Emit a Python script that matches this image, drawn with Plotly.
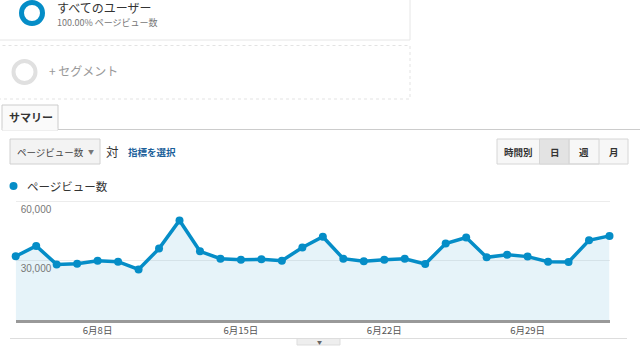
import plotly.graph_objects as go
import pandas as pd

# ---- data ----
dates = pd.date_range("2014-06-04", "2014-07-03", freq="D")
pageviews = [32300, 37550, 28200, 28550, 30100, 29600, 25650, 36200, 50500, 34850,
             31100, 30600, 30750, 30100, 36750, 42200, 31100, 29750, 30600, 31100,
             28400, 38800, 41850, 31800, 33150, 32150, 29600, 29400, 40450, 42650]
x_tick_dates = ["2014-06-08", "2014-06-15", "2014-06-22", "2014-06-29"]
x_tick_labels = ["6月8日", "6月15日", "6月22日", "6月29日"]
y_tick_vals = [30000, 60000]
y_tick_labels = ["30,000", "60,000"]
series_name = "ページビュー数"

W, H = 640, 360
FONT = "Noto Sans CJK JP, Noto Sans, sans-serif"
BLUE = "#058dc7"
Y_MAX = 61500


def px(x):
    return x / W


def py(y):
    return 1 - y / H


fig = go.Figure()
fig.add_trace(go.Scatter(
    x=dates, y=pageviews, mode="lines+markers", name=series_name,
    line=dict(color=BLUE, width=3.5),
    marker=dict(color=BLUE, size=8),
    fill="tozeroy", fillcolor="rgba(5,141,199,0.10)",
    cliponaxis=False, hoverinfo="skip", showlegend=False,
))

shapes = []
annotations = []


def text(x, y, s, size, color="#333", anchor="left", bold=False):
    annotations.append(dict(
        x=px(x), y=py(y), xref="paper", yref="paper", text=(f"<b>{s}</b>" if bold else s),
        showarrow=False, xanchor=anchor, yanchor="middle", borderpad=0,
        font=dict(family=FONT, size=size, color=color)))


def rect(x0, y0, x1, y1, fill="rgba(0,0,0,0)", line="#ddd", width=1, dash="solid"):
    shapes.append(dict(type="rect", xref="paper", yref="paper",
                       x0=px(x0), x1=px(x1), y0=py(y1), y1=py(y0),
                       fillcolor=fill, line=dict(color=line, width=width, dash=dash),
                       layer="below"))


def hline(x0, x1, y, color="#ccc", width=1):
    shapes.append(dict(type="line", xref="paper", yref="paper",
                       x0=px(x0), x1=px(x1), y0=py(y), y1=py(y),
                       line=dict(color=color, width=width)))


def circle(cx, cy, r, color, width, fill="rgba(0,0,0,0)"):
    shapes.append(dict(type="circle", xref="paper", yref="paper",
                       x0=px(cx - r), x1=px(cx + r), y0=py(cy + r), y1=py(cy - r),
                       fillcolor=fill, line=dict(color=color, width=width)))


# segment box 1
rect(-2, -5, 410, 40, line="#e6e6e6")
circle(32, 13, 10.5, BLUE, 5)
text(56, 7, "すべてのユーザー", 12, "#333")
text(56, 22, "100.00% ページビュー数", 9, "#777")

# segment box 2 (dotted)
rect(-2, 45.5, 410, 99, line="#e3e3e3", dash="dot")
circle(24.5, 72, 11, "#e0e0e0", 4)
text(48, 71, "+ セグメント", 12, "#999")

# summary tab
hline(58, 640, 129.5, "#cccccc")
rect(2, 105, 58, 130, fill="#fafafa", line="#cccccc")
hline(2.5, 57.5, 129.5, "#fafafa", 2)
text(8, 117, "サマリー", 11, "#333", bold=True)

# metric dropdown
rect(10, 139, 100, 164, fill="#f3f3f3", line="#d0d0d0")
text(16, 151.5, "ページビュー数", 9.5, "#444")
text(91, 151.5, "▼", 6, "#777", anchor="center")
text(105, 151, "対", 12.5, "#333")
text(127, 151.5, "指標を選択", 9.5, "#1b5f9a", bold=True)

# time-period buttons
rect(497, 139, 628, 164, fill="#f7f7f7", line="#d6d6d6")
rect(539.5, 139, 569, 164, fill="#e3e3e3", line="#d6d6d6")
rect(569, 139, 599, 164, fill="rgba(0,0,0,0)", line="#d6d6d6")
text(518.5, 151.5, "時間別", 9.5, "#333", anchor="center", bold=True)
text(554.5, 151.5, "日", 9.5, "#333", anchor="center", bold=True)
text(584, 151.5, "週", 9.5, "#333", anchor="center", bold=True)
text(613.5, 151.5, "月", 9.5, "#333", anchor="center", bold=True)

# legend
circle(13.5, 186, 4, BLUE, 0, fill=BLUE)
text(26, 186, series_name, 11.5, "#333")

# bottom line and drag tab
hline(10, 627, 338.5, "#dddddd")
rect(297, 338.5, 340, 345, fill="#eeeeee", line="#dddddd")
text(319, 341.5, "▼", 5, "#666", anchor="center")

plot_bottom = 320.0
px_per_unit = (320.0 - 201.7) / 60000
plot_top = plot_bottom - Y_MAX * px_per_unit

fig.update_layout(
    width=W, height=H, margin=dict(l=0, r=0, t=0, b=0),
    paper_bgcolor="white", plot_bgcolor="white",
    font=dict(family=FONT),
    shapes=shapes, annotations=annotations, showlegend=False,
    xaxis=dict(
        domain=[px(15.7), px(609.5)],
        range=[dates[0], dates[-1]],
        tickvals=x_tick_dates, ticktext=x_tick_labels,
        showgrid=False, zeroline=False,
        showline=True, linecolor="#999999", linewidth=2.5,
        ticks="", ticklabelstandoff=0,
        tickfont=dict(size=9.5, color="#555", family=FONT),
    ),
    yaxis=dict(
        domain=[py(plot_bottom), py(plot_top)],
        range=[0, Y_MAX],
        tickvals=y_tick_vals, ticktext=y_tick_labels,
        ticklabelposition="inside", ticklabelshift=8, ticklabelstandoff=2,
        showgrid=True, gridcolor="#ececec", gridwidth=1,
        zeroline=False, showline=False, ticks="",
        tickfont=dict(size=10, color="#777", family="Liberation Sans, Arial, sans-serif"),
    ),
)

fig.write_html("out.html")
